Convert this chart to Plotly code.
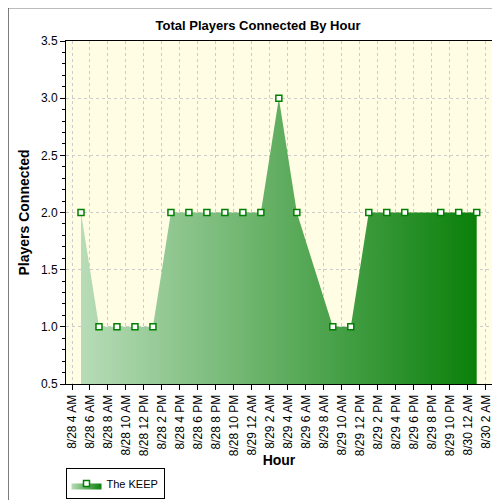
import plotly.graph_objects as go

times = ["2024-08-28 05:00","2024-08-28 07:00","2024-08-28 09:00","2024-08-28 11:00","2024-08-28 13:00",
         "2024-08-28 15:00","2024-08-28 17:00","2024-08-28 19:00","2024-08-28 21:00","2024-08-28 23:00",
         "2024-08-29 01:00","2024-08-29 03:00","2024-08-29 05:00","2024-08-29 09:00","2024-08-29 11:00",
         "2024-08-29 13:00","2024-08-29 15:00","2024-08-29 17:00","2024-08-29 21:00","2024-08-29 23:00",
         "2024-08-30 01:00"]
players = [2,1,1,1,1,2,2,2,2,2,2,3,2,1,1,2,2,2,2,2,2]

tick_vals = ["2024-08-28 %02d:00" % h for h in range(4, 24, 2)] + \
            ["2024-08-29 %02d:00" % h for h in range(0, 24, 2)] + \
            ["2024-08-30 %02d:00" % h for h in range(0, 4, 2)]
def lab(s):
    d, t = s.split(" ")
    h = int(t[:2])
    ap = "AM" if h < 12 else "PM"
    h12 = h % 12 or 12
    return "8/%d %d %s" % (int(d[-2:]), h12, ap)
tick_text = [lab(s) for s in tick_vals]

fig = go.Figure()
fig.add_trace(go.Scatter(
    x=times, y=players, name="The KEEP", mode="lines+markers",
    line=dict(color="rgba(0,128,0,0)", width=2, shape="linear"),
    fill="tozeroy",
    fillgradient=dict(type="horizontal", colorscale=[[0, "#b8dcb8"], [1, "#0a800a"]]),
    marker=dict(symbol="square", size=6, color="white", line=dict(color="#008000", width=1.5)),
))

fig.update_layout(
    width=500, height=500,
    margin=dict(l=58, r=16, t=33, b=124),
    paper_bgcolor="white", plot_bgcolor="#fffde4",
    font=dict(family="Liberation Sans, Arial", size=12, color="black"),
    title=dict(text="<b>Total Players Connected By Hour</b>", x=0.5, xanchor="center",
               y=0.966, yanchor="middle", font=dict(size=13)),
    showlegend=True,
    legend=dict(x=0.115, y=0.018, xanchor="left", yanchor="bottom", xref="container", yref="container",
                bordercolor="black", borderwidth=1, font=dict(size=11), orientation="h",
                itemwidth=30, tracegroupgap=0),
    xaxis=dict(type="date", range=["2024-08-28 03:20", "2024-08-30 02:42"], automargin=False,
               tickvals=tick_vals, ticktext=tick_text, tickangle=-90,
               ticks="outside", ticklen=5, tickcolor="black",
               showgrid=True, gridcolor="#cccccc", griddash="dot",
               showline=True, linecolor="black", linewidth=1, mirror=True,
               title=dict(text="<b>Hour</b>", standoff=12), tickfont=dict(size=12)),
    yaxis=dict(range=[0.5, 3.5], dtick=0.5, tickformat=".1f", automargin=False,
               ticks="outside", ticklen=5, tickcolor="black",
               minor=dict(dtick=0.1, ticks="outside", ticklen=3, tickcolor="black", showgrid=False),
               showgrid=True, gridcolor="#cccccc", griddash="dot", zeroline=False,
               showline=True, linecolor="black", linewidth=1, mirror=True,
               title=dict(text="<b>Players Connected</b>", standoff=8), tickfont=dict(size=12)),
    shapes=[dict(type="rect", xref="paper", yref="paper", x0=-0.1355, x1=1.0415, y0=-0.3456, y1=1.0965,
                 line=dict(color="#555555", width=1), layer="below")],
)
fig.write_html("out.html")
